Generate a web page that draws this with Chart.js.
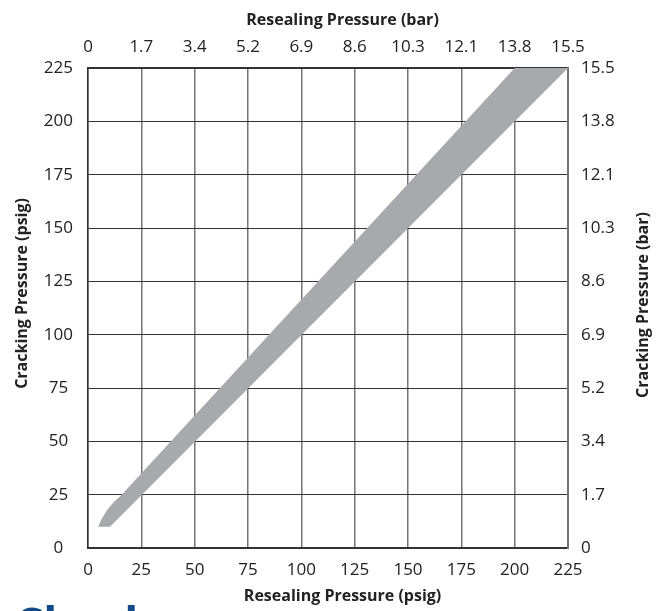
<!DOCTYPE html>
<html>
<head>
<meta charset="utf-8">
<script src="https://cdn.jsdelivr.net/npm/chart.js@4.4.1/dist/chart.umd.min.js"></script>
<style>
  html, body { margin: 0; padding: 0; background: #fff; overflow: hidden; }
  #wrap { position: relative; width: 658px; height: 611px; overflow: hidden; }
  #logo {
    position: absolute; left: 14px; top: 600px;
    font: bold 46px "Open Sans", sans-serif; color: #124a87; line-height: 1;
  }
</style>
</head>
<body>
<div id="wrap">
  <canvas id="chart" width="658" height="611"></canvas>
  <div id="logo">Check</div>
</div>
<script>
// axis ticks (psig on bottom/left, bar on top/right)
const psigTicks = [0, 25, 50, 75, 100, 125, 150, 175, 200, 225];
const barTicks = ['0', '1.7', '3.4', '5.2', '6.9', '8.6', '10.3', '12.1', '13.8', '15.5'];

// band edges (resealing psig, cracking psig)
const upperX = [4.8, 6, 7.5, 9, 10.3, 12, 15.8, 200, 225];
const upperY = [10, 12.8, 15.5, 17.8, 19.4, 21.5, 25, 225, 225];
const lowerX = [4.8, 10.3, 225];
const lowerY = [10, 10, 225];

const toPoints = (xs, ys) => xs.map((x, i) => ({x: x, y: ys[i]}));

const tickFont = {family: 'Open Sans', size: 17};
const titleFont = {family: 'Open Sans', size: 16, weight: 'bold'};
const dark = '#333333';
const grey = '#757575';
const pad = '\u00a0'.repeat(7);

// right title reads bottom-to-top like the left one, chart.js turns it the other way
const rightTitle = {
  id: 'rightTitle',
  afterDraw(chart) {
    const s = chart.scales.y2;
    const c = chart.ctx;
    c.save();
    c.translate(s.right - 15, (s.top + s.bottom) / 2 - 3);
    c.rotate(-Math.PI / 2);
    c.font = 'bold 16px "Open Sans"';
    c.fillStyle = '#222';
    c.textAlign = 'center';
    c.textBaseline = 'middle';
    c.fillText('Cracking Pressure (bar)', 0, 0);
    c.restore();
  }
};

const ctx = document.getElementById('chart').getContext('2d');

new Chart(ctx, {
  type: 'line',
  data: {
    datasets: [{
      label: 'lower',
      data: toPoints(lowerX, lowerY),
      borderWidth: 0,
      pointRadius: 0,
      fill: false
    }, {
      label: 'upper',
      data: toPoints(upperX, upperY),
      borderWidth: 0,
      pointRadius: 0,
      backgroundColor: '#a7a9ac',
      fill: '-1'
    }]
  },
  options: {
    responsive: false,
    animation: false,
    layout: {padding: 0},
    plugins: {legend: {display: false}, tooltip: {enabled: false}},
    scales: {
      x: {
        type: 'linear', position: 'bottom', min: 0, max: 225,
        afterFit: s => { s.height = 63; },
        ticks: {stepSize: 25, font: tickFont, color: '#222', padding: 12, maxRotation: 0},
        grid: {color: grey, lineWidth: 1.5, drawTicks: false},
        border: {color: dark, width: 1.5},
        title: {display: true, text: pad + 'Resealing Pressure (psig)', font: titleFont, color: '#222', padding: {top: 0, bottom: 5}}
      },
      x2: {
        type: 'linear', position: 'top', min: 0, max: 225,
        afterFit: s => { s.height = 68; },
        ticks: {stepSize: 25, font: tickFont, color: '#222', padding: 11, maxRotation: 0,
          callback: v => barTicks[psigTicks.indexOf(v)]},
        grid: {color: 'transparent', drawTicks: false},
        border: {color: dark, width: 1.5},
        title: {display: true, text: pad + 'Resealing Pressure (bar)', font: titleFont, color: '#222', padding: {top: 11, bottom: 0}}
      },
      y: {
        type: 'linear', position: 'left', min: 0, max: 225,
        afterFit: s => { s.width = 88; },
        ticks: {stepSize: 25, font: tickFont, color: '#222', padding: 15, crossAlign: 'center'},
        grid: {color: dark, lineWidth: 1, drawTicks: false},
        border: {color: dark, width: 1.5},
        title: {display: true, text: pad + 'Cracking Pressure (psig)', font: titleFont, color: '#222', padding: {top: 13, bottom: 0}}
      },
      y2: {
        type: 'linear', position: 'right', min: 0, max: 225,
        afterFit: s => { s.width = 90; },
        ticks: {stepSize: 25, font: tickFont, color: '#222', padding: 13,
          callback: v => barTicks[psigTicks.indexOf(v)]},
        grid: {color: 'transparent', drawTicks: false},
        border: {color: grey, width: 2}
      }
    }
  },
  plugins: [rightTitle]
});
</script>
</body>
</html>
